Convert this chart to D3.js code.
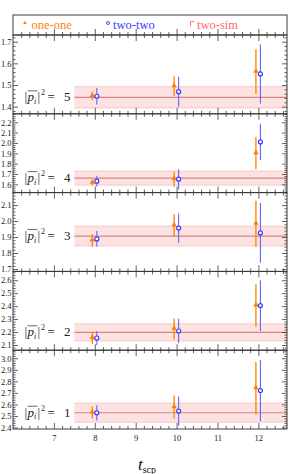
<!DOCTYPE html>
<html><head><meta charset="utf-8">
<script src="https://cdn.jsdelivr.net/npm/d3@7"></script>
<style>
html,body{margin:0;padding:0;background:#fff;}
svg{display:block;}
</style>
</head><body>
<svg id="chart" width="291" height="474"></svg>
<script>
// ---------- data ----------
const momenta = [5, 4, 3, 2, 1];
const times = [8, 10, 12];
const yDomains = [[1.367, 1.731], [1.520, 2.282], [1.685, 2.178], [2.060, 2.668], [2.387, 3.070]];
const yTickLabels = [
  ["1.4", "1.5", "1.6", "1.7"],
  ["1.6", "1.7", "1.8", "1.9", "2.0", "2.1", "2.2"],
  ["1.7", "1.8", "1.9", "2.0", "2.1"],
  ["2.1", "2.2", "2.3", "2.4", "2.5", "2.6"],
  ["2.4", "2.5", "2.6", "2.7", "2.8", "2.9", "3.0"]
];
const xTickLabels = ["7", "8", "9", "10", "11", "12"];
const oneOne = [[1.450, 1.495, 1.562], [1.615, 1.650, 1.902], [1.879, 1.973, 1.983], [2.155, 2.225, 2.405], [2.530, 2.576, 2.740]];
const oneOneErr = [[0.020, 0.045, 0.103], [0.025, 0.073, 0.155], [0.039, 0.071, 0.144], [0.045, 0.080, 0.164], [0.053, 0.101, 0.228]];
const twoTwo = [[1.448, 1.469, 1.551], [1.630, 1.650, 2.010], [1.888, 1.956, 1.926], [2.154, 2.208, 2.404], [2.527, 2.542, 2.720]];
const twoTwoErr = [[0.038, 0.069, 0.136], [0.052, 0.097, 0.175], [0.049, 0.092, 0.187], [0.054, 0.094, 0.196], [0.066, 0.127, 0.265]];
const twoSim = [1.443, 1.660, 1.906, 2.198, 2.528];
const twoSimErr = [0.049, 0.068, 0.062, 0.066, 0.083];
const bandStart = 7.5;
const seriesNames = ["one-one", "two-two", "two-sim"];

// ---------- styles ----------
const ORANGE = "#ff8000", BLUE = "#3a3aff", BLUE_BAR = "#6262ff";
const PINK_TXT = "#ff6a6a", BAND = "#fde2e2", BAND_EDGE = "#f6b8b8", BAND_LINE = "#d68585";
const FRAME = "#3a3a3a";
const SERIF = "'Liberation Serif','DejaVu Serif',serif";

const svg = d3.select("#chart");
const L = 13, R = 287;
const legendTop = 15, panelTop = 35, panelH = 78.8;
const x = d3.scaleLinear().domain([6, 12.7]).range([L, R]);
const xMajor = d3.range(6, 13, 1);
const xMinor = d3.range(6, 12.71, 0.2).filter(v => Math.abs(v - Math.round(v)) > 1e-6);
const offO = -0.06, offB = 0.05;

function styleAxis(g) {
  g.select(".domain").remove();
  g.selectAll(".tick line").attr("stroke", FRAME).attr("stroke-width", 0.8);
  g.selectAll(".tick text").attr("font-family", SERIF).attr("font-size", 8.5).attr("fill", "#222");
}

function xTicks(yPos, dir, withLabels) {
  const mk = (vals, len, lab) => {
    const ax = (dir > 0 ? d3.axisTop(x) : d3.axisBottom(x)).tickValues(vals)
      .tickSizeInner(-len).tickSizeOuter(0).tickFormat(lab ? (d => d3.format("d")(d)) : () => "");
    const g = svg.append("g").attr("transform", `translate(0,${yPos})`).call(ax);
    styleAxis(g);
    return g;
  };
  mk(xMinor, 3, false);
  const gM = mk(xMajor.filter(v => v > 6), 6, withLabels);
  if (withLabels) {
    gM.selectAll(".tick text").attr("y", 12).attr("dy", 0)
      .text((d) => xTickLabels[xMajor.indexOf(d) - 1]);
  }
}

// legend panel
svg.append("rect").attr("x", L).attr("y", legendTop).attr("width", R - L).attr("height", panelTop - legendTop)
  .attr("fill", "none").attr("stroke", FRAME).attr("stroke-width", 1);
xTicks(panelTop, -1, false);

const legendItems = [
  {name: seriesNames[0], color: ORANGE, tx: 31.5},
  {name: seriesNames[1], color: BLUE, tx: 113},
  {name: seriesNames[2], color: PINK_TXT, tx: 197}
];
legendItems.forEach(it => {
  svg.append("text").attr("x", it.tx).attr("y", 28.5).attr("font-family", SERIF).attr("font-size", 12.5)
    .attr("fill", it.color).text(it.name);
});
svg.append("path").attr("d", d3.symbol(d3.symbolTriangle, 6)()).attr("transform", "translate(25,23)").attr("fill", ORANGE);
svg.append("circle").attr("cx", 108).attr("cy", 23).attr("r", 1.5).attr("fill", "none").attr("stroke", BLUE).attr("stroke-width", 0.9);
svg.append("path").attr("d", "M190.5,26 V21.5 H194").attr("fill", "none").attr("stroke", PINK_TXT).attr("stroke-width", 0.9);

// data panels
momenta.forEach((p, i) => {
  const top = panelTop + i * panelH, bot = top + panelH;
  const y = d3.scaleLinear().domain(yDomains[i]).range([bot, top]);
  const g = svg.append("g");
  const clipId = "clip" + i;
  svg.append("clipPath").attr("id", clipId).append("rect").attr("x", L).attr("y", top).attr("width", R - L).attr("height", panelH);
  const gc = g.append("g").attr("clip-path", `url(#${clipId})`);

  // band (two-sim)
  const c = twoSim[i], e = twoSimErr[i];
  gc.append("rect").attr("x", x(bandStart)).attr("y", y(c + e)).attr("width", x(12.7) - x(bandStart))
    .attr("height", y(c - e) - y(c + e)).attr("fill", BAND);
  [c + e, c - e].forEach(v => gc.append("line").attr("x1", x(bandStart)).attr("x2", x(12.7))
    .attr("y1", y(v)).attr("y2", y(v)).attr("stroke", BAND_EDGE).attr("stroke-width", 0.7));
  gc.append("line").attr("x1", x(bandStart)).attr("x2", x(12.7)).attr("y1", y(c)).attr("y2", y(c))
    .attr("stroke", BAND_LINE).attr("stroke-width", 1.2);

  // one-one
  times.forEach((t, k) => {
    const v = oneOne[i][k], er = oneOneErr[i][k];
    gc.append("line").attr("x1", x(t + offO)).attr("x2", x(t + offO)).attr("y1", y(v + er)).attr("y2", y(v - er))
      .attr("stroke", ORANGE).attr("stroke-width", 1.3);
    gc.append("path").attr("d", d3.symbol(d3.symbolTriangle, 13)())
      .attr("transform", `translate(${x(t + offO)},${y(v) - 0.5})`).attr("fill", ORANGE);
  });
  // two-two
  times.forEach((t, k) => {
    const v = twoTwo[i][k], er = twoTwoErr[i][k];
    gc.append("line").attr("x1", x(t + offB)).attr("x2", x(t + offB)).attr("y1", y(v + er)).attr("y2", y(v - er))
      .attr("stroke", BLUE_BAR).attr("stroke-width", 1.1);
    gc.append("circle").attr("cx", x(t + offB)).attr("cy", y(v)).attr("r", 2.0)
      .attr("fill", "#fff").attr("stroke", BLUE).attr("stroke-width", 1.2);
  });

  // y axes
  const yMaj = yTickLabels[i].map(Number);
  const step = 0.02;
  const yMin = d3.range(Math.ceil(yDomains[i][0] / step) * step, yDomains[i][1], step)
    .filter(v => yMaj.every(m => Math.abs(m - v) > 1e-6));
  const mkY = (vals, len, lab, right) => {
    const ax = (right ? d3.axisRight(y) : d3.axisLeft(y)).tickValues(vals).tickSizeInner(-len).tickSizeOuter(0)
      .tickFormat(lab ? (d => yTickLabels[i][yMaj.indexOf(d)]) : () => "");
    const ga = svg.append("g").attr("transform", `translate(${right ? R : L},0)`).call(ax);
    styleAxis(ga);
    if (lab) ga.selectAll(".tick text").attr("x", -1.5);
  };
  mkY(yMin, 2.5, false, false);
  mkY(yMaj, 5, true, false);
  mkY(yMin, 2.5, false, true);
  mkY(yMaj, 5, false, true);

  xTicks(top, 1, false);
  xTicks(bot, -1, i === momenta.length - 1);

  svg.append("rect").attr("x", L).attr("y", top).attr("width", R - L).attr("height", panelH)
    .attr("fill", "none").attr("stroke", FRAME).attr("stroke-width", 1);

  // label |p_i|^2 = n
  const ly = y(c) + 4;
  const lab = svg.append("g").attr("font-family", SERIF).attr("fill", "#222");
  lab.append("text").attr("x", 24.5).attr("y", ly).attr("font-size", 13).text("|");
  lab.append("text").attr("x", 27.5).attr("y", ly).attr("font-size", 13).attr("font-style", "italic").text("p");
  lab.append("text").attr("x", 34).attr("y", ly + 2.5).attr("font-size", 8.5).attr("font-style", "italic").text("i");
  lab.append("text").attr("x", 37.5).attr("y", ly).attr("font-size", 13).text("|");
  lab.append("text").attr("x", 41).attr("y", ly - 6).attr("font-size", 8).text("2");
  lab.append("line").attr("x1", 27.5).attr("x2", 37.5).attr("y1", ly - 10.5).attr("y2", ly - 10.5)
    .attr("stroke", "#222").attr("stroke-width", 0.7);
  lab.append("text").attr("x", 47.5).attr("y", ly).attr("font-size", 13).text("=");
  lab.append("text").attr("x", 64).attr("y", ly).attr("font-size", 13).text(String(p));
});

// x axis title
const title = svg.append("text").attr("x", 147).attr("y", 470).attr("text-anchor", "middle").attr("font-family", SERIF).attr("fill", "#111");
title.append("tspan").attr("font-size", 17).attr("font-style", "italic").text("t");
title.append("tspan").attr("font-size", 10).attr("dy", 3).text("scp");
</script>
</body></html>
